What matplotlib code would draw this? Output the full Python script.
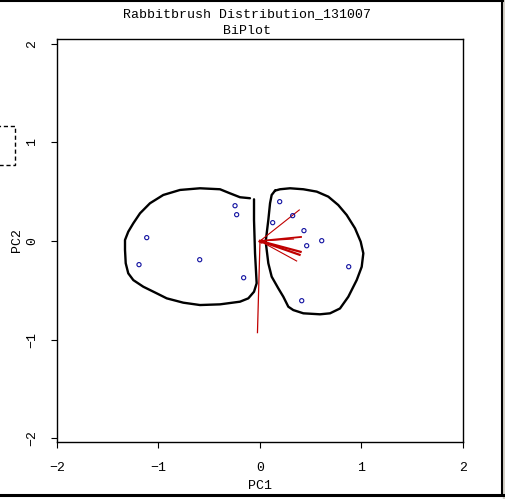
import numpy as np
import matplotlib.pyplot as plt
from matplotlib.lines import Line2D
from matplotlib.patches import Rectangle

plt.rcParams['font.family'] = ['Liberation Mono', 'DejaVu Sans']

# PC scores of the sites
pc1 = [-0.246, -0.230, -1.116, -1.192, -0.594, -0.161,
       0.194, 0.322, 0.125, 0.433, 0.608, 0.460, 0.874, 0.411]
pc2 = [0.358, 0.267, 0.034, -0.240, -0.190, -0.373,
       0.399, 0.257, 0.186, 0.105, 0.003, -0.048, -0.261, -0.606]

# variable loadings (arrow tips)
load1 = [0.387, 0.404, 0.330, 0.400, 0.390, 0.361, -0.025]
load2 = [0.315, 0.041, 0.020, -0.110, -0.140, -0.203, -0.930]
load_w = [0.8, 1.3, 0.8, 1.6, 1.6, 0.8, 0.9]

# hand drawn group outlines
left_x = [-0.059, -0.059, -0.049, -0.033, -0.059, -0.115, -0.197, -0.394, -0.591,
          -0.756, -0.919, -1.018, -1.150, -1.248, -1.298, -1.323, -1.330, -1.330,
          -1.298, -1.248, -1.182, -1.084, -0.953, -0.788, -0.591, -0.394, -0.296,
          -0.197, -0.099]
left_y = [0.423, 0.213, -0.125, -0.429, -0.515, -0.582, -0.616, -0.643, -0.650,
          -0.626, -0.582, -0.531, -0.464, -0.397, -0.328, -0.226, -0.091, 0.010,
          0.094, 0.180, 0.281, 0.383, 0.467, 0.518, 0.535, 0.525, 0.484,
          0.444, 0.434]
right_x = [0.148, 0.197, 0.296, 0.427, 0.559, 0.673, 0.771, 0.854, 0.936, 0.992,
           1.018, 1.002, 0.953, 0.870, 0.788, 0.690, 0.591, 0.427, 0.328, 0.279,
           0.230, 0.180, 0.115, 0.082, 0.066, 0.056, 0.066, 0.082, 0.099, 0.115, 0.148]
right_y = [0.511, 0.525, 0.535, 0.525, 0.501, 0.450, 0.365, 0.264, 0.129, -0.007,
           -0.125, -0.262, -0.396, -0.566, -0.685, -0.734, -0.744, -0.734, -0.701, -0.667,
           -0.566, -0.480, -0.362, -0.226, -0.091, -0.007, 0.078, 0.213, 0.383, 0.467, 0.511]

fig = plt.figure(figsize=(5.06, 4.99), dpi=100)
ax = fig.add_axes([57/506, 57/499, 406/506, 403/499])

ax.plot(left_x, left_y, color='black', lw=1.7, solid_joinstyle='round', solid_capstyle='round')
ax.plot(right_x, right_y, color='black', lw=1.7, solid_joinstyle='round', solid_capstyle='round')

for x, y, w in zip(load1, load2, load_w):
    ax.plot([0, x], [0, y], color='#c00000', lw=w)
ax.plot([0], [0], marker='<', ms=2.5, color='#c00000')

ax.scatter(pc1, pc2, s=9, facecolors='none', edgecolors='#1010a0', linewidths=0.8, zorder=3)

ax.set_xlim(-2, 2)
ax.set_ylim(-2.04, 2.05)
ax.set_xticks([-2, -1, 0, 1, 2])
ax.set_yticks([-2, -1, 0, 1, 2])
ax.tick_params(labelsize=9.5, length=4, width=0.8, direction='out')
ax.tick_params(axis='x', pad=10.5)
ax.tick_params(axis='y', pad=9.5)
for lab in ax.get_yticklabels():
    lab.set_rotation(90)
    lab.set_va('center')
for sp in ax.spines.values():
    sp.set_linewidth(1.0)

ax.set_xlabel('PC1', fontsize=9.5, labelpad=4)
ax.set_ylabel('PC2', fontsize=9.5, labelpad=2)
fig.text(247/506, 1 - 14/499, 'Rabbitbrush Distribution_131007', ha='center', va='center', fontsize=9.5)
fig.text(247/506, 1 - 31/499, 'BiPlot', ha='center', va='center', fontsize=9.5)

# window frame of the screenshot
fig.add_artist(Line2D([0, 503/506], [1 - 0.5/499, 1 - 0.5/499], color='black', lw=1.5))
fig.add_artist(Line2D([502/506, 502/506], [1 - 495/499, 1], color='black', lw=1.5))
fig.add_artist(Line2D([0, 503/506], [1 - 495/499, 1 - 495/499], color='black', lw=2.2))
fig.add_artist(Rectangle((503/506, 0), 3/506, 1, color='#d4d0c8', transform=fig.transFigure))
fig.add_artist(Rectangle((-5/506, 1 - 165/499), 20/506, 39/499, fill=False, ls=(0, (3, 2)),
                         lw=1.0, edgecolor='black', transform=fig.transFigure))

fig.savefig('out.png', dpi=100)
